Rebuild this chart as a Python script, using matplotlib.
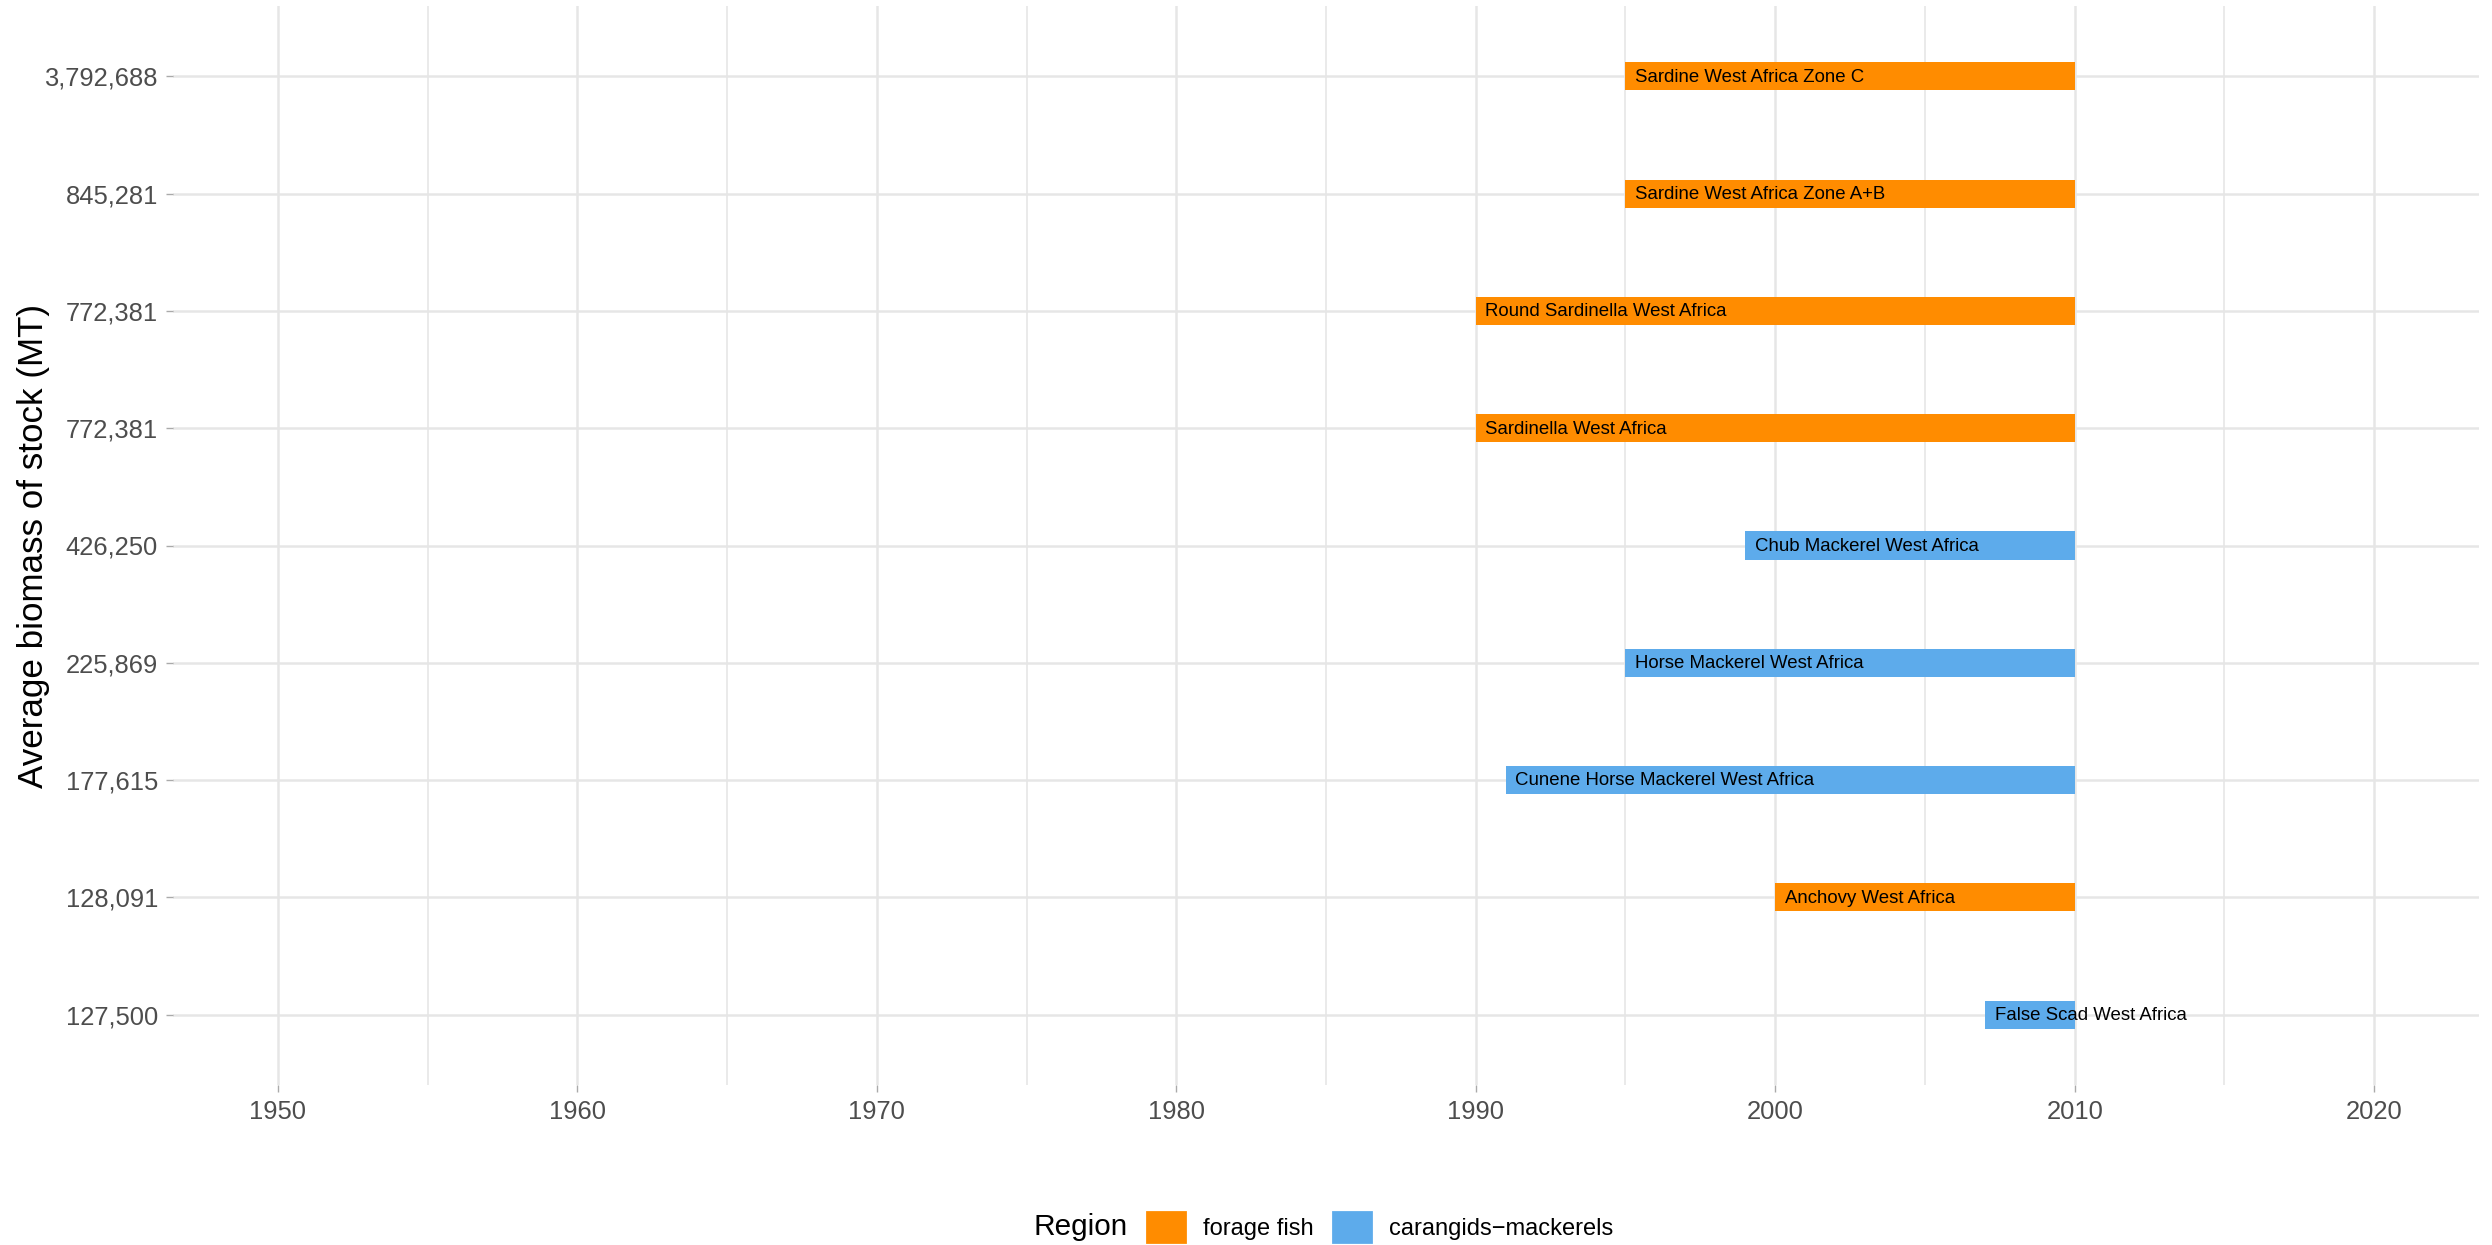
import matplotlib
matplotlib.use("Agg")
import matplotlib.pyplot as plt
from matplotlib.patches import Patch
from matplotlib.ticker import MultipleLocator

plt.rcParams['font.family'] = ['Liberation Sans', 'DejaVu Sans']

# stocks, bottom to top
stocks = ['False Scad West Africa', 'Anchovy West Africa', 'Cunene Horse Mackerel West Africa',
          'Horse Mackerel West Africa', 'Chub Mackerel West Africa', 'Sardinella West Africa',
          'Round Sardinella West Africa', 'Sardine West Africa Zone A+B', 'Sardine West Africa Zone C']
biomass = ['127,500', '128,091', '177,615', '225,869', '426,250', '772,381', '772,381', '845,281', '3,792,688']
start_year = [2007, 2000, 1991, 1995, 1999, 1990, 1990, 1995, 1995]
end_year = [2010, 2010, 2010, 2010, 2010, 2010, 2010, 2010, 2010]
group = ['carangids-mackerels', 'forage fish', 'carangids-mackerels', 'carangids-mackerels',
         'carangids-mackerels', 'forage fish', 'forage fish', 'forage fish', 'forage fish']

colors = {'forage fish': '#FF8C00', 'carangids-mackerels': '#5DABEB'}
legend_labels = {'forage fish': 'forage fish', 'carangids-mackerels': 'carangids\u2212mackerels'}

fig = plt.figure(figsize=(12.46, 6.225), dpi=200)
ax = fig.add_axes([173/2492, 160/1245, (2479-173)/2492, (1085-6)/1245])

ypos = list(range(len(stocks)))
for y, s, e, g, name in zip(ypos, start_year, end_year, group, stocks):
    ax.barh(y, e - s, left=s, height=0.24, color=colors[g], zorder=2)
    ax.annotate(name, xy=(s, y), xytext=(3.5, -0.3), textcoords='offset points',
                ha='left', va='center', fontsize=6.7, color='black', zorder=3)

ax.set_xlim(1946.5, 2023.5)
ax.set_ylim(-0.6, len(stocks) - 0.4)
ax.xaxis.set_major_locator(MultipleLocator(10))
ax.xaxis.set_minor_locator(MultipleLocator(5))
ax.set_yticks(ypos)
ax.set_yticklabels(biomass)

ax.grid(which='major', color='#E6E6E6', linewidth=0.9, zorder=0)
ax.grid(which='minor', axis='x', color='#E6E6E6', linewidth=0.6, zorder=0)
ax.set_axisbelow(True)
for sp in ax.spines.values():
    sp.set_visible(False)
ax.tick_params(which='major', length=2.5, width=0.5, color='#AAAAAA', pad=2.9,
               labelsize=9.2, labelcolor='#4D4D4D')
ax.tick_params(which='minor', length=0)

ax.set_ylabel('Average biomass of stock (MT)', fontsize=12.6, color='black')
ax.yaxis.set_label_coords(-0.0535, 0.5)

fig.text(1034/2492, 0.0145, 'Region', fontsize=10.7, ha='left', va='center')
handles = [Patch(color=colors[k]) for k in colors]
fig.legend(handles, [legend_labels[k] for k in colors], loc='center left',
           bbox_to_anchor=(1147/2492, 0.0145), ncol=2, frameon=False, fontsize=8.5,
           handlelength=1.6, handleheight=1.6, handletextpad=0.76, columnspacing=0.85,
           borderpad=0, borderaxespad=0)

fig.savefig('out.png', dpi=200, facecolor='white')
